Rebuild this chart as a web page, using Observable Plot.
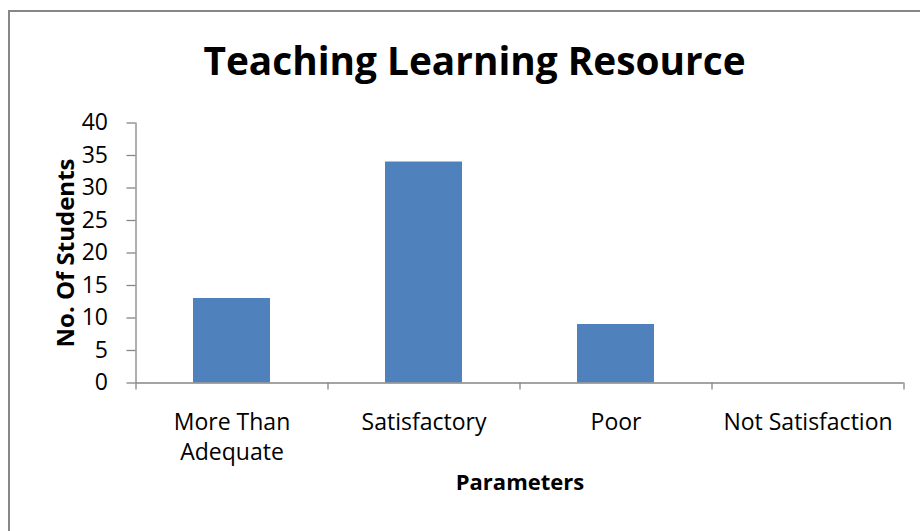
<!DOCTYPE html>
<html>
<head>
<meta charset="utf-8">
<script src="https://cdn.jsdelivr.net/npm/d3@7"></script>
<script src="https://cdn.jsdelivr.net/npm/@observablehq/plot@0.6"></script>
<style>
  html, body { margin: 0; padding: 0; background: #ffffff; overflow: hidden; }
  #wrap { position: relative; width: 920px; height: 531px; overflow: hidden; font-family: "Open Sans", sans-serif; }
  #frame { position: absolute; left: 8px; top: 10px; width: 1000px; height: 1000px; border: 2px solid #878787; box-sizing: border-box; pointer-events: none; z-index: 2; }
  #title { box-sizing: border-box; height: 100px; padding-top: 41px; padding-left: 29px; width: 920px; text-align: center;
           font-family: "Open Sans", sans-serif; font-weight: bold; font-size: 38.8px; line-height: 38px; color: #000; }
  #chart svg { display: block; }
</style>
</head>
<body>
<div id="wrap">
  <div id="frame"></div>
  <div id="title"></div>
  <div id="chart"></div>
</div>
<script>
// ---- data ----
const chartTitle = "Teaching Learning Resource";
const xTitle = "Parameters";
const yTitle = "No. Of Students";
const categories = ["More Than Adequate", "Satisfactory", "Poor", "Not Satisfaction"];
const tickLabels = ["More Than\nAdequate", "Satisfactory", "Poor", "Not Satisfaction"];
const students = [13, 34, 9, 0];
const yTicks = [0, 5, 10, 15, 20, 25, 30, 35, 40];

const rows = categories.map((c, i) => ({category: c, value: students[i]}));

document.getElementById("title").textContent = chartTitle;

const W = 920, H = 431;
const mL = 135.5, mR = 16.5, mT = 22.5, mB = 148.5;
const padInner = 0.6, padOuter = 0.3;
const step = (W - mL - mR) / (categories.length - padInner + 2 * padOuter);
const half = step / 2;
const grey = "#868686";

const plot = Plot.plot({
  width: W,
  height: H,
  marginLeft: mL,
  marginRight: mR,
  marginTop: mT,
  marginBottom: mB,
  style: {fontFamily: "Open Sans, sans-serif", color: "#000", background: "transparent", overflow: "visible"},
  x: {domain: categories, paddingInner: padInner, paddingOuter: padOuter, axis: null},
  y: {domain: [0, 40], axis: null},
  marks: [
    Plot.barY(rows, {x: "category", y: "value", fill: "#4F81BD"}),
    // vertical axis line
    Plot.ruleX([categories[0]], {dx: -half, y1: 0, y2: 40, stroke: grey, strokeWidth: 1.3}),
    // horizontal axis line
    Plot.ruleY([0], {stroke: grey, strokeWidth: 1.3}),
    // category boundary ticks
    Plot.ruleX(categories, {dx: -half, y1: 0, y2: 0, insetBottom: -7, stroke: grey, strokeWidth: 1.3}),
    Plot.ruleX([categories[categories.length - 1]], {dx: half, y1: 0, y2: 0, insetBottom: -7, stroke: grey, strokeWidth: 1.3}),
    Plot.axisY({ticks: yTicks, tickSize: 9, tickPadding: 19, fontSize: 23, stroke: grey, strokeWidth: 1.3, fill: "#000", label: null}),
    Plot.axisX({tickSize: 0, tickPadding: 26, fontSize: 23, lineHeight: 1.3, fill: "#000",
                tickFormat: d => tickLabels[categories.indexOf(d)], label: null}),
    Plot.text([yTitle], {frameAnchor: "left", textAnchor: "middle", rotate: -90, dx: -70, fontWeight: "bold", fontSize: 24, fill: "#000"}),
    Plot.text([xTitle], {frameAnchor: "bottom", textAnchor: "middle", dy: 107, fontWeight: "bold", fontSize: 22, fill: "#000"})
  ]
});
document.getElementById("chart").appendChild(plot);
</script>
</body>
</html>
